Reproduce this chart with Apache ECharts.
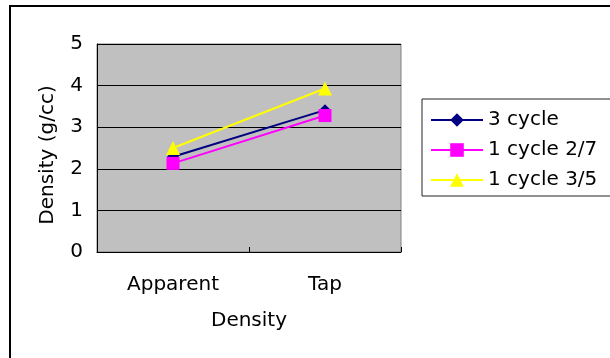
<!DOCTYPE html>
<html><head><meta charset="utf-8">
<script src="https://cdn.jsdelivr.net/npm/echarts@6/dist/echarts.min.js"></script>
<style>html,body{margin:0;padding:0;background:#fff}#c{width:610px;height:358px}</style>
</head><body><div id="c"></div>
<script>
const categories = ['Apparent', 'Tap'];
const seriesNames = ['3 cycle', '1 cycle 2/7', '1 cycle 3/5'];
const cycle3 = [2.29, 3.41];
const cycle1_27 = [2.13, 3.28];
const cycle1_35 = [2.50, 3.93];
const yTicks = [0, 1, 2, 3, 4, 5];

const FONT = 'DejaVu Sans';
const chart = echarts.init(document.getElementById('c'), null, {renderer: 'canvas'});
chart.setOption({
  animation: false,
  backgroundColor: '#fff',
  textStyle: {fontFamily: FONT},
  graphic: [{
    type: 'rect', shape: {x: 10, y: 6, width: 620, height: 370},
    style: {fill: 'none', stroke: '#000', lineWidth: 2}, silent: true
  }],
  grid: {left: 97, right: 209, top: 44, bottom: 106, show: true,
    backgroundColor: '#c0c0c0', borderColor: '#808080', borderWidth: 1},
  legend: {
    left: 422, top: 99, orient: 'vertical',
    data: seriesNames,
    itemWidth: 52, itemHeight: 17, itemGap: 10,
    padding: [11, 40, 6, 8],
    borderColor: '#222', borderWidth: 1,
    textStyle: {fontFamily: FONT, fontSize: 20, color: '#000', lineHeight: 20}
  },
  xAxis: {
    type: 'category', data: categories, boundaryGap: true,
    axisLine: {lineStyle: {color: '#000', width: 1}},
    axisTick: {show: true, inside: true, length: 5, lineStyle: {color: '#000'}},
    axisLabel: {margin: 23, fontSize: 20, color: '#000', fontFamily: FONT},
    name: 'Density', nameLocation: 'middle', nameGap: 59,
    nameTextStyle: {fontSize: 20, color: '#000', fontFamily: FONT}
  },
  yAxis: {
    type: 'value', min: yTicks[0], max: yTicks[yTicks.length - 1], interval: 1,
    axisLine: {show: true, lineStyle: {color: '#000', width: 1}},
    axisTick: {show: true, inside: true, length: 6, lineStyle: {color: '#000'}},
    axisLabel: {margin: 14, fontSize: 20, color: '#000', fontFamily: FONT},
    splitLine: {show: true, lineStyle: {color: '#000', width: 1}},
    name: 'Density (g/cc)', nameLocation: 'middle', nameGap: 39, nameRotate: 90,
    nameTextStyle: {fontSize: 20, color: '#000', fontFamily: FONT, padding: [0, 14, 0, 0]}
  },
  series: [
    {name: seriesNames[0], type: 'line', data: cycle3, symbol: 'diamond', symbolSize: 12,
      itemStyle: {color: '#000080'}, lineStyle: {color: '#000080', width: 2}},
    {name: seriesNames[1], type: 'line', data: cycle1_27, symbol: 'rect', symbolSize: 13,
      itemStyle: {color: '#ff00ff'}, lineStyle: {color: '#ff00ff', width: 2}},
    {name: seriesNames[2], type: 'line', data: cycle1_35, symbol: 'triangle', symbolSize: 14,
      itemStyle: {color: '#ffff00'}, lineStyle: {color: '#ffff00', width: 2}}
  ]
});
</script></body></html>
